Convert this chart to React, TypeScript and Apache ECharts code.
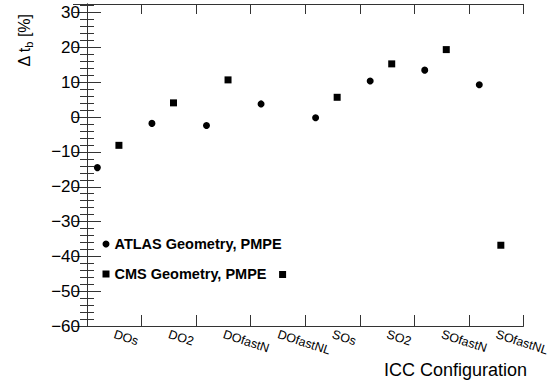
import React, { useEffect, useRef } from "react";
import * as echarts from "echarts";

const categories = ["DOs", "DO2", "DOfastN", "DOfastNL", "SOs", "SO2", "SOfastN", "SOfastNL"];
const atlasValues = [-14.5, -1.8, -2.4, 3.8, -0.2, 10.4, 13.5, 9.3];
const cmsValues = [-8.1, 4.1, 10.7, -45.2, 5.7, 15.3, 19.4, -36.8];
const seriesNames = ["ATLAS Geometry, PMPE", "CMS Geometry, PMPE"];
const yTitle = "Δ t{sub|b} [%]";
const xTitle = "ICC Configuration";

const FONT = "'Liberation Sans', Arial, Helvetica, sans-serif";

export default function App() {
  const ref = useRef<HTMLDivElement>(null);
  useEffect(() => {
    if (!ref.current) return;
    const chart = echarts.init(ref.current, null, { renderer: "svg" });
    const atlasData = atlasValues.map((v, i) => [i + 0.19, v]);
    const cmsData = cmsValues.map((v, i) => [i + 0.585, v]);
    const lineColor = "#333";
    const yAxisCommon = {
      type: "value",
      min: -60,
      max: 32.5,
      interval: 10,
      splitLine: { show: false },
      axisLine: { show: true, lineStyle: { color: lineColor, width: 1 } },
      axisTick: { show: true, inside: true, length: 14, lineStyle: { color: lineColor } },
      minorTick: { show: true, splitNumber: 5, length: 7, lineStyle: { color: lineColor } },
      minorSplitLine: { show: false },
    };
    chart.setOption({
      animation: false,
      grid: { left: 87, right: 19, top: 4, bottom: 59, containLabel: false },
      xAxis: [
        {
          type: "value",
          min: 0,
          max: categories.length,
          interval: 1,
          position: "bottom",
          splitLine: { show: false },
          axisLine: { show: true, onZero: false, lineStyle: { color: lineColor } },
          axisTick: { show: true, inside: true, length: 11, lineStyle: { color: lineColor } },
          axisLabel: { show: false },
        },
        {
          type: "value",
          min: 0,
          max: categories.length,
          interval: 1,
          position: "top",
          splitLine: { show: false },
          axisLine: { show: true, onZero: false, lineStyle: { color: lineColor } },
          axisTick: { show: true, inside: true, length: 10, lineStyle: { color: lineColor } },
          axisLabel: { show: false },
        },
        {
          type: "category",
          data: categories,
          position: "bottom",
          boundaryGap: true,
          axisLine: { show: false },
          axisTick: { show: false },
          splitLine: { show: false },
          axisLabel: {
            show: true,
            interval: 0,
            rotate: -18,
            margin: 8,
            fontSize: 12.5,
            fontFamily: FONT,
            color: "#000",
          },
        },
      ],
      yAxis: [
        {
          ...yAxisCommon,
          position: "left",
          axisLabel: {
            show: true,
            showMaxLabel: false,
            margin: 7,
            fontSize: 17,
            fontFamily: FONT,
            color: "#000",
            formatter: (v: number) => {
              if (Math.abs(v % 10) > 1e-6) return "";
              return v < 0 ? "\u2212" + Math.abs(v) : String(v);
            },
          },
        },
        {
          ...yAxisCommon,
          position: "right",
          axisLabel: { show: false },
        },
      ],
      legend: {
        orient: "vertical",
        left: 102.5,
        top: 236,
        itemWidth: 7,
        itemHeight: 7,
        itemGap: 14,
        padding: 0,
        data: [
          { name: seriesNames[0], icon: "circle" },
          { name: seriesNames[1], icon: "rect" },
        ],
        itemStyle: { opacity: 1 },
        textStyle: {
          fontSize: 14.5,
          fontWeight: "bold",
          fontFamily: FONT,
          color: "#000",
          lineHeight: 16,
        },
      },
      series: [
        {
          name: seriesNames[0],
          type: "scatter",
          xAxisIndex: 0,
          yAxisIndex: 0,
          symbol: "circle",
          symbolSize: 7,
          itemStyle: { color: "#000", opacity: 1 },
          data: atlasData,
        },
        {
          name: seriesNames[1],
          type: "scatter",
          xAxisIndex: 0,
          yAxisIndex: 0,
          symbol: "rect",
          symbolSize: 7,
          itemStyle: { color: "#000", opacity: 1 },
          data: cmsData,
        },
      ],
      graphic: [
        {
          type: "text",
          x: 24,
          y: 14,
          rotation: Math.PI / 2,
          style: {
            text: yTitle,
            align: "right",
            verticalAlign: "middle",
            fontSize: 16,
            fontFamily: FONT,
            fill: "#000",
            rich: {
              sub: { fontSize: 11, fontFamily: FONT, padding: [10, 0, 0, 0] },
            },
          },
        },
        {
          type: "text",
          x: 527,
          y: 370,
          style: {
            text: xTitle,
            align: "right",
            verticalAlign: "middle",
            fontSize: 18,
            fontFamily: FONT,
            fill: "#000",
          },
        },
      ],
    });
    return () => chart.dispose();
  }, []);
  return (
    <div
      ref={ref}
      style={{ position: "fixed", left: 0, top: 0, width: 552, height: 385, background: "#fff" }}
    />
  );
}
